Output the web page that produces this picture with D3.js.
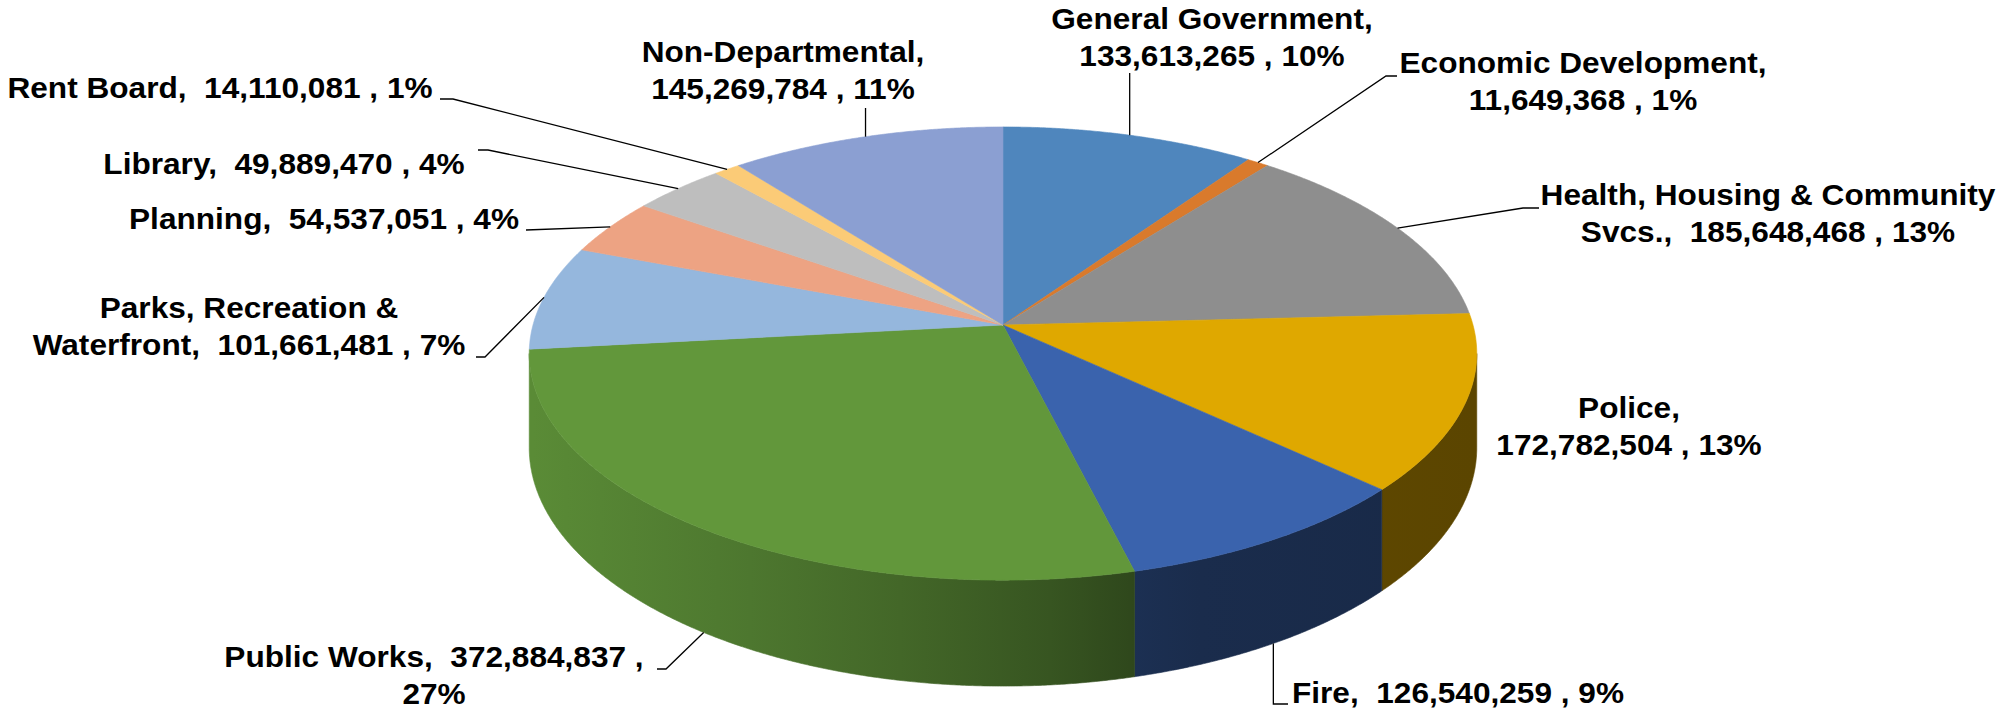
<!DOCTYPE html>
<html>
<head>
<meta charset="utf-8">
<script src="https://cdn.jsdelivr.net/npm/d3@7"></script>
<style>
  body { margin: 0; background: #fff; }
  svg { display: block; }
  .lbl { font-family: "Liberation Sans", Arial, sans-serif; font-weight: bold; font-size: 29px; fill: #000; white-space: pre; }
  .leader { fill: none; stroke: #000; stroke-width: 1.3; }
</style>
</head>
<body>
<svg id="chart" width="2000" height="712"></svg>
<script>
// budget by department, clockwise from 12 o'clock
const departments = ["General Government", "Economic Development", "Health, Housing & Community Svcs.",
  "Police", "Fire", "Public Works", "Parks, Recreation & Waterfront", "Planning", "Library",
  "Rent Board", "Non-Departmental"];
const budget = [133613265, 11649368, 185648468, 172782504, 126540259, 372884837,
  101661481, 54537051, 49889470, 14110081, 145269784];
const percent = [10, 1, 13, 13, 9, 27, 7, 4, 4, 1, 11];
const colors = ["#4f86bd", "#d97a2c", "#8e8e8e", "#dfa800", "#3a63ad", "#62973b",
  "#95b7dd", "#eda383", "#bebebe", "#fbcb77", "#8b9fd2"];

// label placement (x = centre, y = first baseline), line break rule, leader end/elbow
const labelLayout = [
  {x: 1212, y: 29,  br: "name", end: [null, 73]},
  {x: 1583, y: 73,  br: "name", end: [1397, 76], elbow: [1386, 76]},
  {x: 1768, y: 205, br: 4,      end: [1539, 208], elbow: [1523, 208]},
  {x: 1629, y: 418, br: "name"},
  {x: 1458, y: 703, br: "one",  end: [1288, 704], elbow: [null, 704]},
  {x: 434,  y: 667, br: "pct",  end: [657, 669], elbow: [666, 669]},
  {x: 249,  y: 318, br: 3,      end: [476, 357], elbow: [485, 357]},
  {x: 324,  y: 229, br: "one",  end: [526, 230]},
  {x: 284,  y: 174, br: "one",  end: [478, 150], elbow: [488, 150]},
  {x: 220,  y: 98,  br: "one",  end: [440, 99], elbow: [453, 99]},
  {x: 783,  y: 62,  br: "name", end: [null, 108]}
];

// perspective pie geometry
const cx = 1003, cy = 325, A = 470, B = 223, k = 0.126, depth = 92.6;
const lineH = 37;

function proj(a, z) {
  let u = Math.sin(a), v = -Math.cos(a), w = 1 - k * v;
  return [cx + A * u / w, cy + (B * v + z * depth) / w];
}
// silhouette of the side wall
const wallL = Math.acos(-k), wallR = 2 * Math.PI - Math.acos(-k);

function arcPts(a0, a1, z) {
  let n = Math.max(2, Math.ceil(Math.abs(a1 - a0) / 0.005));
  return d3.range(n + 1).map(i => proj(a0 + (a1 - a0) * i / n, z));
}

let svg = d3.select("#chart");
let defs = svg.append("defs");

let pie = d3.pie().sort(null).value(d => d)(budget);
let fmt = d3.format(",");

// darker side shading, lighter on the left
const shade = [[529, 0.92], [600, 0.88], [750, 0.79], [900, 0.68], [1050, 0.56], [1130, 0.48], [1200, 0.44], [1477, 0.41]];
colors.forEach(function(c, i) {
  let g = defs.append("linearGradient").attr("id", "side" + i)
    .attr("gradientUnits", "userSpaceOnUse")
    .attr("x1", cx - A).attr("x2", cx + A).attr("y1", 0).attr("y2", 0);
  let rgb = d3.rgb(c);
  shade.forEach(function(s) {
    g.append("stop")
      .attr("offset", (s[0] - (cx - A)) / (2 * A))
      .attr("stop-color", d3.rgb(rgb.r * s[1], rgb.g * s[1], rgb.b * s[1]).formatHex());
  });
});

let line = d3.line();

// side walls
svg.append("g").selectAll("path")
  .data(pie.filter(d => d.endAngle > wallL && d.startAngle < wallR))
  .enter().append("path")
  .attr("d", function(d) {
    let a0 = Math.max(d.startAngle, wallL), a1 = Math.min(d.endAngle, wallR);
    let pts = arcPts(a0, a1, 0).concat(arcPts(a1, a0, 1));
    return line(pts) + "Z";
  })
  .style("fill", d => "url(#side" + d.index + ")")
  .style("stroke", d => "url(#side" + d.index + ")")
  .style("stroke-width", 0.6);

// top face
svg.append("g").selectAll("path")
  .data(pie)
  .enter().append("path")
  .attr("d", d => line([[cx, cy]].concat(arcPts(d.startAngle, d.endAngle, 0))) + "Z")
  .style("fill", d => colors[d.index])
  .style("stroke", d => colors[d.index])
  .style("stroke-width", 0.6);

// labels and leader lines
function labelLines(i) {
  let name = departments[i], val = fmt(budget[i]), pct = percent[i] + "%";
  let br = labelLayout[i].br;
  if (br === "name") return [name + ",", val + " , " + pct];
  if (br === "one") return [name + ",  " + val + " , " + pct];
  if (br === "pct") return [name + ",  " + val + " ,", pct];
  let words = name.split(" ");
  return [words.slice(0, br).join(" "), words.slice(br).join(" ") + ",  " + val + " , " + pct];
}

let lg = svg.append("g");
pie.forEach(function(d, i) {
  let L = labelLayout[i];
  if (L.end) {
    let mid = (d.startAngle + d.endAngle) / 2;
    let onWall = mid > wallL && mid < wallR;
    let p0 = proj(mid, onWall ? 1 : 0);
    let pts = [p0];
    if (L.elbow) pts.push([L.elbow[0] === null ? p0[0] : L.elbow[0], L.elbow[1]]);
    pts.push([L.end[0] === null ? p0[0] : L.end[0], L.end[1]]);
    lg.append("path").attr("class", "leader").attr("d", line(pts));
  }
  let t = lg.append("text").attr("class", "lbl")
    .attr("text-anchor", "middle")
    .attr("transform", "translate(" + L.x + "," + L.y + ") scale(1.09,1)");
  labelLines(i).forEach(function(s, j) {
    t.append("tspan").attr("x", 0).attr("y", j * lineH).text(s);
  });
});
</script>
</body>
</html>
